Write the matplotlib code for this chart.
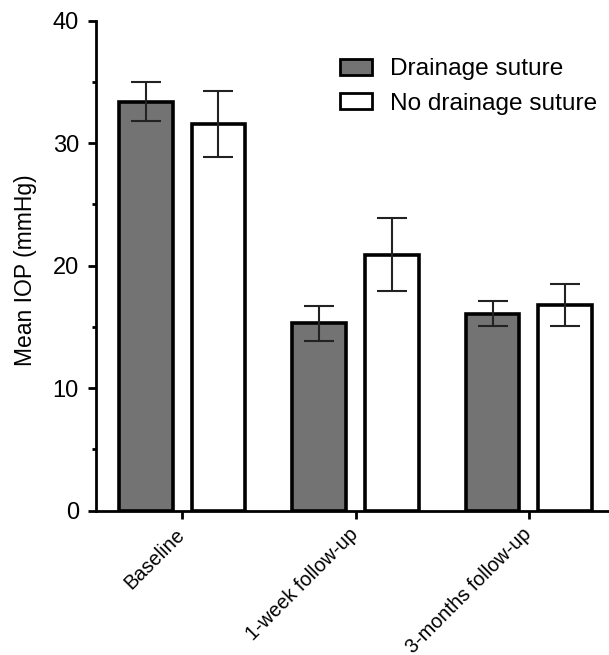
import matplotlib
matplotlib.use("Agg")
import matplotlib.pyplot as plt
import numpy as np
from matplotlib.ticker import MultipleLocator

plt.rcParams['font.family'] = ['Liberation Sans', 'DejaVu Sans']

categories = ["Baseline", "1-week follow-up", "3-months follow-up"]
series_names = ["Drainage suture", "No drainage suture"]
drainage_mean = [33.4, 15.3, 16.1]
drainage_err = [1.6, 1.45, 1.05]
nodrain_mean = [31.6, 20.9, 16.8]
nodrain_err = [2.7, 3.0, 1.7]

fig = plt.figure(figsize=(6.09, 6.55), dpi=100)
ax = fig.add_axes([95.5 / 609, 0.2203, 520 / 609, 0.748])

x = np.arange(len(categories))
w = 0.31
off = 0.209
ekw = dict(elinewidth=1.5, capthick=1.5, ecolor='#222222')
ax.bar(x - off, drainage_mean, w, color='#737373', edgecolor='black', linewidth=2.6,
       label=series_names[0], zorder=2)
ax.bar(x + off, nodrain_mean, w, color='white', edgecolor='black', linewidth=2.6,
       label=series_names[1], zorder=2)
ax.errorbar(x - off, drainage_mean, yerr=drainage_err, fmt='none', capsize=10.5, zorder=3, **ekw)
ax.errorbar(x + off, nodrain_mean, yerr=nodrain_err, fmt='none', capsize=10.5, zorder=3, **ekw)

ax.set_ylim(0, 40)
ax.set_xlim(-0.5, 2.5)
ax.yaxis.set_major_locator(MultipleLocator(10))
ax.yaxis.set_minor_locator(MultipleLocator(5))

for s in ['top', 'right']:
    ax.spines[s].set_visible(False)
for s in ['left', 'bottom']:
    ax.spines[s].set_linewidth(2.0)

ax.tick_params(axis='y', which='major', length=6, width=2.0, labelsize=17, pad=6)
ax.tick_params(axis='y', which='minor', length=3, width=2.0)
ax.tick_params(axis='x', which='major', length=6, width=2.0, labelsize=14.3, pad=9)

ax.set_xticks(x)
ax.set_xticklabels(categories, rotation=45, ha='right', va='center', rotation_mode='anchor')

ax.set_ylabel("Mean IOP (mmHg)", fontsize=16.5)
ax.yaxis.set_label_coords((37 - 95.5) / 520, 0.49)

leg = fig.legend(loc='upper left', bbox_to_anchor=(0.558, 0.911), frameon=False,
                 fontsize=17.6, borderpad=0, borderaxespad=0, handlelength=1.32,
                 handleheight=0.62, handletextpad=0.72, labelspacing=0.5)
for h in leg.legend_handles:
    h.set_linewidth(2.0)

fig.savefig("out.png", dpi=100)
